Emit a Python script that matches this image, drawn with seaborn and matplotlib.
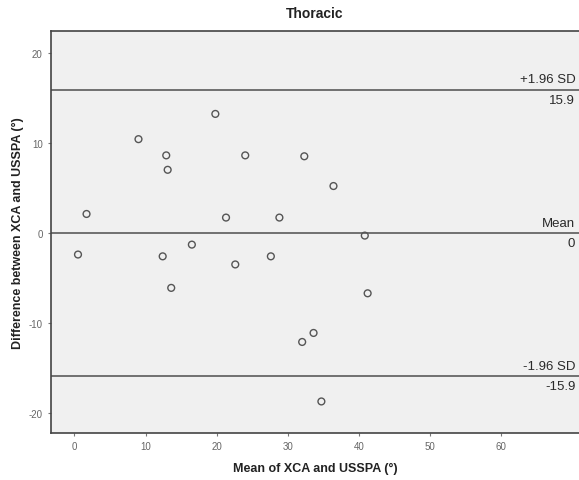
import matplotlib
matplotlib.use("Agg")
import matplotlib.pyplot as plt
import seaborn as sns
import pandas as pd

# Data
mean_vals = [1.7, 9.0, 12.9, 13.1, 19.8, 21.3, 24.0, 28.8, 32.3, 36.4, 40.8, 16.5,
             0.5, 12.4, 13.6, 22.6, 27.6, 41.2, 32.0, 33.6, 34.7]
diff_vals = [2.1, 10.4, 8.6, 7.0, 13.2, 1.7, 8.6, 1.7, 8.5, 5.2, -0.3, -1.3,
             -2.4, -2.6, -6.1, -3.5, -2.6, -6.7, -12.1, -11.1, -18.7]
upper_loa = 15.9
mean_diff = 0
lower_loa = -15.9
x_ticks = [0, 10, 20, 30, 40, 50, 60]
y_ticks = [-20, -10, 0, 10, 20]

df = pd.DataFrame({"mean": mean_vals, "diff": diff_vals})

sns.set_style("white")
plt.rcParams['font.family'] = ['Liberation Sans', 'DejaVu Sans']
plt.rcParams['axes.unicode_minus'] = False

fig = plt.figure(figsize=(5.79, 4.81), dpi=100)
ax = fig.add_axes([0.088, 0.0977, 0.912, 0.8358])
ax.set_facecolor("#F0F0F0")

sns.scatterplot(data=df, x="mean", y="diff", ax=ax, marker="o", s=24,
                facecolor="none", edgecolor="#555555", linewidth=1.0, zorder=3)

line_col = "#666666"
for v in (upper_loa, mean_diff, lower_loa):
    ax.axhline(v, color=line_col, lw=1.3, zorder=2)

ax.set_xlim(-3.3, 70.9)
ax.set_ylim(-22.2, 22.4)
ax.set_xticks(x_ticks)
ax.set_yticks(y_ticks)
ax.tick_params(axis="both", labelsize=7, colors="#777777", length=2.5, width=0.8,
               direction="out", left=True, bottom=True)
for lab in ax.get_xticklabels() + ax.get_yticklabels():
    lab.set_color("#666666")

for side in ("left", "bottom", "top"):
    ax.spines[side].set_color("#444444")
    ax.spines[side].set_linewidth(1.2)
ax.spines["right"].set_visible(False)

ax.set_xlabel("Mean of XCA and USSPA (°)", fontsize=9, fontweight="bold", color="#222222",
              labelpad=8)
ax.set_ylabel("Difference between XCA and USSPA (°)", fontsize=9, fontweight="bold", color="#222222",
              labelpad=3)
ax.set_title("Thoracic", fontsize=10, fontweight="bold", color="#222222", pad=10)

txt_x = 0.993
labels = [(upper_loa, "+1.96 SD", f"{upper_loa:.1f}"),
          (mean_diff, "Mean", f"{mean_diff:g}"),
          (lower_loa, "-1.96 SD", f"{lower_loa:.1f}")]
trans = ax.get_yaxis_transform()
for v, top, bottom in labels:
    ax.annotate(top, xy=(txt_x, v), xycoords=trans, xytext=(0, 3), textcoords="offset points",
                ha="right", va="bottom", fontsize=9.5, color="#2a2a2a")
    ax.annotate(bottom, xy=(txt_x, v), xycoords=trans, xytext=(0, -3), textcoords="offset points",
                ha="right", va="top", fontsize=9.5, color="#2a2a2a")

fig.savefig("out.png", dpi=100)
